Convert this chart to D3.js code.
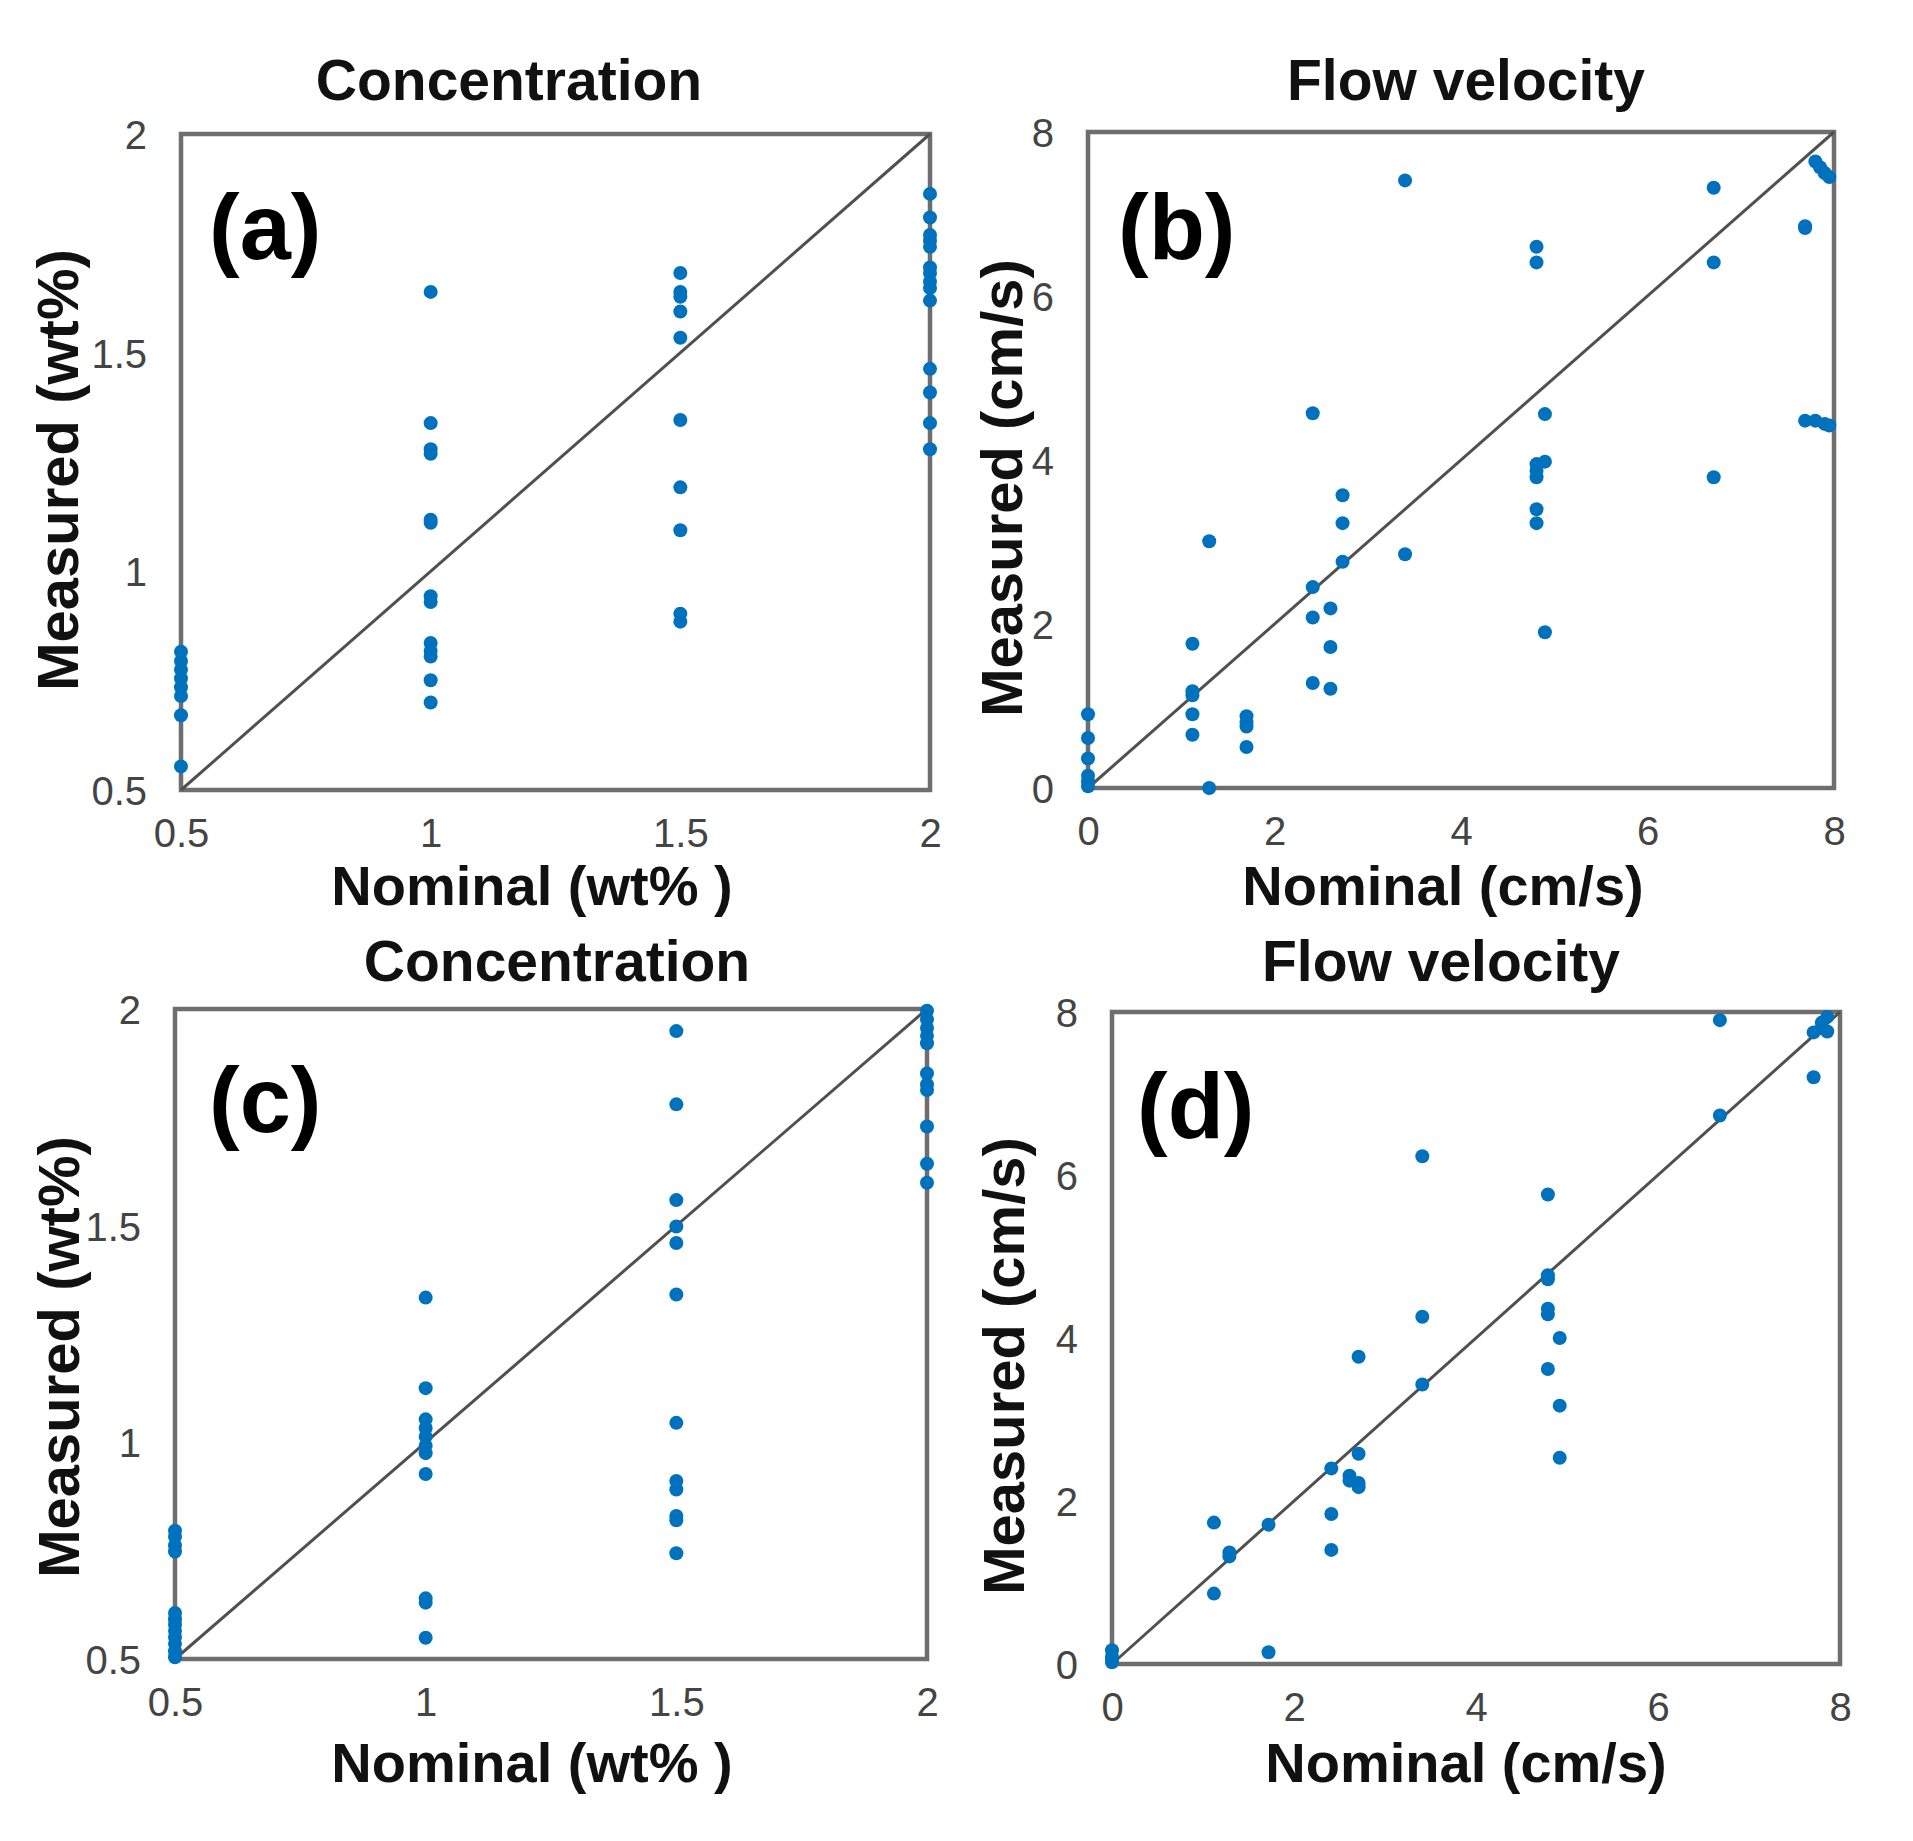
<!DOCTYPE html>
<html>
<head>
<meta charset="utf-8">
<script src="https://cdn.jsdelivr.net/npm/d3@7.9.0/dist/d3.min.js"></script>
<style>
  body { margin: 0; background: #fff; }
  svg { display: block; }
</style>
</head>
<body>
<svg id="chart" width="1913" height="1841"></svg>
<script>
// ---- data ----
const concTicks = [0.5, 1, 1.5, 2];
const velTicks = [0, 2, 4, 6, 8];

const aNominal = [0.5, 0.5, 0.5, 0.5, 0.5, 0.5, 0.5, 0.5,
  1, 1, 1, 1, 1, 1, 1, 1, 1, 1, 1, 1, 1,
  1.5, 1.5, 1.5, 1.5, 1.5, 1.5, 1.5, 1.5, 1.5, 1.5,
  2, 2, 2, 2, 2, 2, 2, 2, 2, 2, 2, 2, 2, 2];
const aMeasured = [0.816, 0.795, 0.775, 0.755, 0.735, 0.715, 0.671, 0.554,
  1.639, 1.339, 1.279, 1.269, 1.118, 1.111, 0.943, 0.930, 0.836, 0.818, 0.805, 0.751, 0.700,
  1.682, 1.639, 1.628, 1.594, 1.534, 1.346, 1.192, 1.094, 0.903, 0.885,
  1.863, 1.809, 1.769, 1.756, 1.742, 1.695, 1.682, 1.662, 1.648, 1.619, 1.463, 1.409, 1.339, 1.279];

const bNominal = [0, 0, 0, 0, 0, 0,
  1.12, 1.12, 1.12, 1.12, 1.12, 1.3, 1.3,
  1.7, 1.7, 1.7, 1.7,
  2.41, 2.41, 2.41, 2.41, 2.6, 2.6, 2.6, 2.73, 2.73, 2.73,
  3.4, 3.4,
  4.81, 4.81, 4.81, 4.81, 4.81, 4.81, 4.81, 4.9, 4.9, 4.9,
  6.71, 6.71, 6.71,
  7.69, 7.69, 7.69, 7.8, 7.8, 7.85, 7.9, 7.9, 7.95, 7.95];
const bMeasured = [0.9, 0.61, 0.36, 0.15, 0.08, 0.02,
  1.76, 1.18, 1.13, 0.9, 0.65, 3.01, 0.0,
  0.875, 0.8, 0.75, 0.5,
  4.57, 2.45, 2.08, 1.28, 2.19, 1.72, 1.21, 3.57, 3.23, 2.76,
  7.41, 2.85,
  6.6, 6.41, 3.95, 3.87, 3.79, 3.4, 3.23, 4.56, 3.98, 1.9,
  7.32, 6.41, 3.79,
  6.85, 6.83, 4.48, 7.64, 4.48, 7.57, 7.5, 4.44, 7.45, 4.42];

const cNominal = [0.5, 0.5, 0.5, 0.5, 0.5, 0.5, 0.5, 0.5, 0.5, 0.5, 0.5, 0.5,
  1, 1, 1, 1, 1, 1, 1, 1, 1, 1, 1,
  1.5, 1.5, 1.5, 1.5, 1.5, 1.5, 1.5, 1.5, 1.5, 1.5, 1.5, 1.5,
  2, 2, 2, 2, 2, 2, 2, 2, 2, 2, 2];
const cMeasured = [0.796, 0.782, 0.762, 0.748, 0.606, 0.592, 0.579, 0.565, 0.551, 0.535, 0.518, 0.504,
  1.334, 1.125, 1.053, 1.033, 1.013, 0.992, 0.975, 0.927, 0.640, 0.630, 0.549,
  1.949, 1.780, 1.559, 1.498, 1.460, 1.341, 1.045, 0.911, 0.891, 0.830, 0.820, 0.744,
  1.996, 1.976, 1.956, 1.938, 1.921, 1.851, 1.826, 1.813, 1.729, 1.643, 1.599];

const dNominal = [0, 0, 0, 0,
  1.12, 1.12, 1.29, 1.29, 1.72, 1.72,
  2.41, 2.41, 2.41, 2.61, 2.61, 2.71, 2.71, 2.71, 2.71,
  3.41, 3.41, 3.41,
  4.79, 4.79, 4.79, 4.79, 4.79, 4.79, 4.92, 4.92, 4.92,
  6.68, 6.68,
  7.71, 7.71, 7.8, 7.8, 7.86, 7.86];
const dMeasured = [0.17, 0.09, 0.06, 0.02,
  1.735, 0.864, 1.368, 1.32, 1.71, 0.144,
  2.4, 1.84, 1.4, 2.31, 2.25, 3.77, 2.58, 2.22, 2.17,
  6.23, 4.26, 3.43,
  5.76, 4.77, 4.72, 4.36, 4.29, 3.62, 4.0, 3.17, 2.53,
  7.9, 6.73,
  7.2, 7.75, 7.87, 7.8, 7.94, 7.76];

// ---- layout ----
const panels = [
  { letter: "(a)", title: "Concentration", xLabel: "Nominal (wt% )", yLabel: "Measured (wt%)",
    nominal: aNominal, measured: aMeasured, ticks: concTicks,
    box: { l: 181, r: 930, t: 134, b: 790 },
    titleX: 509, titleY: 100, xLabX: 532, xLabY: 905, yLabX: 78, yLabY: 470,
    letX: 209, letY: 259 },
  { letter: "(b)", title: "Flow velocity", xLabel: "Nominal (cm/s)", yLabel: "Measured (cm/s)",
    nominal: bNominal, measured: bMeasured, ticks: velTicks,
    box: { l: 1088, r: 1834, t: 132, b: 788 },
    titleX: 1466, titleY: 100, xLabX: 1443, xLabY: 905, yLabX: 1022, yLabY: 488,
    letX: 1118, letY: 259 },
  { letter: "(c)", title: "Concentration", xLabel: "Nominal (wt% )", yLabel: "Measured (wt%)",
    nominal: cNominal, measured: cMeasured, ticks: concTicks,
    box: { l: 175, r: 927, t: 1009, b: 1659 },
    titleX: 557, titleY: 981, xLabX: 532, xLabY: 1782, yLabX: 79, yLabY: 1357,
    letX: 209, letY: 1132 },
  { letter: "(d)", title: "Flow velocity", xLabel: "Nominal (cm/s)", yLabel: "Measured (cm/s)",
    nominal: dNominal, measured: dMeasured, ticks: velTicks,
    box: { l: 1112, r: 1840, t: 1012, b: 1664 },
    titleX: 1441, titleY: 981, xLabX: 1466, xLabY: 1782, yLabX: 1024, yLabY: 1366,
    letX: 1137, letY: 1138 }
];

const svg = d3.select("#chart");
svg.append("rect").attr("width", 1913).attr("height", 1841).attr("fill", "#fff");

const fmt = d => String(d);
const boldFont = "'Liberation Sans', Arial, sans-serif";

panels.forEach(p => {
  const dom = d3.extent(p.ticks);
  const x = d3.scaleLinear().domain(dom).range([p.box.l, p.box.r]);
  const y = d3.scaleLinear().domain(dom).range([p.box.b, p.box.t]);
  const g = svg.append("g");

  // axes (labels only, no tick marks)
  const xAxis = g.append("g")
    .attr("transform", `translate(0,${p.box.b})`)
    .call(d3.axisBottom(x).tickValues(p.ticks).tickFormat(fmt).tickSize(0).tickPadding(29));
  const yAxis = g.append("g")
    .attr("transform", `translate(${p.box.l},0)`)
    .call(d3.axisLeft(y).tickValues(p.ticks).tickFormat(fmt).tickSize(0).tickPadding(34));
  [xAxis, yAxis].forEach(a => {
    a.select(".domain").remove();
    a.selectAll("text")
      .attr("font-family", "'Liberation Sans', Arial, sans-serif")
      .attr("font-size", 40)
      .attr("fill", "#444");
  });
  xAxis.selectAll("text").attr("dy", "0.71em");
  yAxis.selectAll("text").attr("dy", "0.36em");

  // frame
  g.append("rect")
    .attr("x", p.box.l).attr("y", p.box.t)
    .attr("width", p.box.r - p.box.l).attr("height", p.box.b - p.box.t)
    .attr("fill", "none").attr("stroke", "#6e6e6e").attr("stroke-width", 4.5);

  // 1:1 line
  g.append("line")
    .attr("x1", x(dom[0])).attr("y1", y(dom[0]))
    .attr("x2", x(dom[1])).attr("y2", y(dom[1]))
    .attr("stroke", "#505050").attr("stroke-width", 3);

  // points
  g.append("g").selectAll("circle")
    .data(p.nominal.map((v, i) => [v, p.measured[i]]))
    .join("circle")
    .attr("cx", d => x(d[0]))
    .attr("cy", d => y(d[1]))
    .attr("r", 7)
    .attr("fill", "#0072BD");

  // text
  g.append("text").text(p.title)
    .attr("x", p.titleX).attr("y", p.titleY)
    .attr("text-anchor", "middle").attr("font-family", boldFont)
    .attr("font-weight", "bold").attr("font-size", 57).attr("fill", "#111");
  g.append("text").text(p.xLabel)
    .attr("x", p.xLabX).attr("y", p.xLabY)
    .attr("text-anchor", "middle").attr("font-family", boldFont)
    .attr("font-weight", "bold").attr("font-size", 56).attr("fill", "#111");
  g.append("text").text(p.yLabel)
    .attr("transform", `translate(${p.yLabX},${p.yLabY}) rotate(-90)`)
    .attr("text-anchor", "middle").attr("font-family", boldFont)
    .attr("font-weight", "bold").attr("font-size", 58).attr("fill", "#111");
  g.append("text").text(p.letter)
    .attr("x", p.letX).attr("y", p.letY)
    .attr("font-family", boldFont)
    .attr("font-weight", "bold").attr("font-size", 92).attr("fill", "#000");
});
</script>
</body>
</html>
